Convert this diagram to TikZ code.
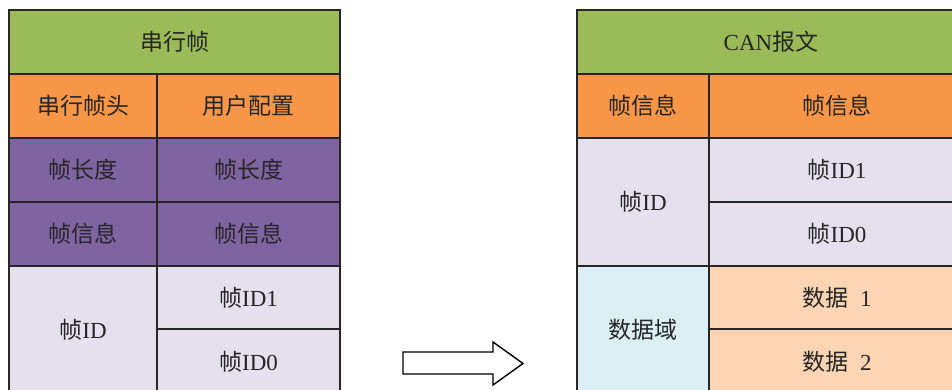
\documentclass[tikz,border=0pt]{standalone}
\usepackage{fontspec}
\setmainfont{Liberation Serif}
\newfontfamily\cjk{Noto Sans CJK SC}
\definecolor{hgreen}{HTML}{9BBB59}
\definecolor{horange}{HTML}{F79646}
\definecolor{hpurple}{HTML}{8064A2}
\definecolor{hlav}{HTML}{E5E0EC}
\definecolor{hblue}{HTML}{DAEEF3}
\definecolor{hpeach}{HTML}{FBD4B4}
\begin{document}
\begin{tikzpicture}[x=1pt,y=-1pt,
  cell/.style={draw=black!85, line width=1.3pt, inner sep=0pt, outer sep=0pt,
    anchor=north west, font=\fontsize{23}{23}\selectfont, text=black!85},
  arrowshape/.style={draw=black, line width=1.4pt, fill=white, line join=miter}]
\useasboundingbox (0,0) rectangle (952,390);
\clip (0,0) rectangle (952,390);
% left table
\node[cell, fill=hgreen, minimum width=331pt, minimum height=64pt] (lt) at (9,10) {{\cjk 串行帧}};
\node[cell, fill=horange, minimum width=148pt, minimum height=64pt] (lh1) at (9,74) {{\cjk 串行帧头}};
\node[cell, fill=horange, minimum width=183pt, minimum height=64pt] (lh2) at (157,74) {{\cjk 用户配置}};
\node[cell, fill=hpurple, minimum width=148pt, minimum height=64pt] (ll1) at (9,138) {{\cjk 帧长度}};
\node[cell, fill=hpurple, minimum width=183pt, minimum height=64pt] (ll2) at (157,138) {{\cjk 帧长度}};
\node[cell, fill=hpurple, minimum width=148pt, minimum height=64pt] (li1) at (9,202) {{\cjk 帧信息}};
\node[cell, fill=hpurple, minimum width=183pt, minimum height=64pt] (li2) at (157,202) {{\cjk 帧信息}};
\node[cell, fill=hlav, minimum width=148pt, minimum height=128pt] (lid) at (9,266) {{\cjk 帧}ID};
\node[cell, fill=hlav, minimum width=183pt, minimum height=63pt] (lid1) at (157,266) {{\cjk 帧}ID1};
\node[cell, fill=hlav, minimum width=183pt, minimum height=65pt] (lid0) at (157,329) {{\cjk 帧}ID0};
% right table
\node[cell, fill=hgreen, minimum width=388pt, minimum height=64pt] (rt) at (577,10) {CAN{\cjk 报文}};
\node[cell, fill=horange, minimum width=132pt, minimum height=64pt] (rh1) at (577,74) {{\cjk 帧信息}};
\node[cell, fill=horange, minimum width=256pt, minimum height=64pt] (rh2) at (709,74) {{\cjk 帧信息}};
\node[cell, fill=hlav, minimum width=132pt, minimum height=128pt] (rid) at (577,138) {{\cjk 帧}ID};
\node[cell, fill=hlav, minimum width=256pt, minimum height=64pt] (rid1) at (709,138) {{\cjk 帧}ID1};
\node[cell, fill=hlav, minimum width=256pt, minimum height=64pt] (rid0) at (709,202) {{\cjk 帧}ID0};
\node[cell, fill=hblue, minimum width=132pt, minimum height=128pt] (rdf) at (577,266) {{\cjk 数据域}};
\node[cell, fill=hpeach, minimum width=256pt, minimum height=63pt] (rd1) at (709,266) {{\cjk 数据}\hspace{0.5em}1};
\node[cell, fill=hpeach, minimum width=256pt, minimum height=65pt] (rd2) at (709,329) {{\cjk 数据}\hspace{0.5em}2};
% block arrow
\draw[arrowshape] (403,352) -- (493,352) -- (493,342) -- (523,363.5) -- (493,385) -- (493,374) -- (403,374) -- cycle;
\end{tikzpicture}
\end{document}
